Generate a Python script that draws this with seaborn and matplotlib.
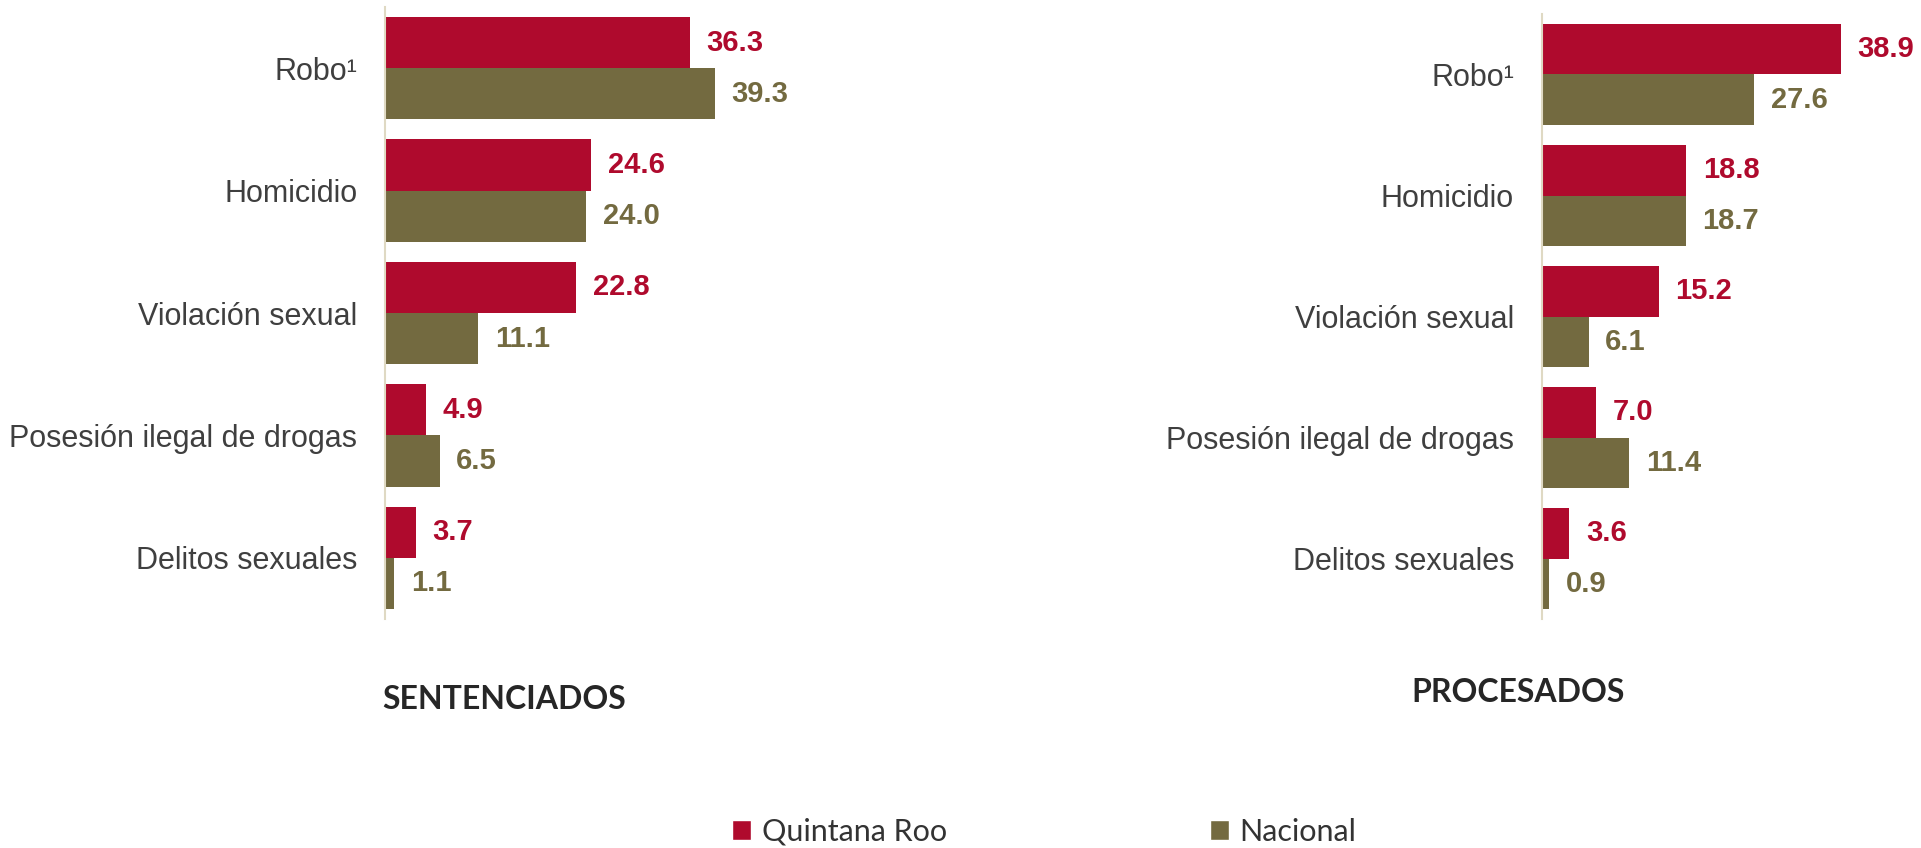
import matplotlib
matplotlib.use("Agg")
import matplotlib.pyplot as plt
from matplotlib.patches import Patch
import pandas as pd
import seaborn as sns

# Categorías de delito y series
delitos = ["Robo¹", "Homicidio", "Violación sexual",
           "Posesión ilegal de drogas", "Delitos sexuales"]
grupos = ["Quintana Roo", "Nacional"]

sentenciados_qroo = [36.3, 24.6, 22.8, 4.9, 3.7]
sentenciados_nac = [39.3, 24.0, 11.1, 6.5, 1.1]

procesados_qroo = [38.9, 18.8, 15.2, 7.0, 3.6]
procesados_nac = [27.6, 18.7, 6.1, 11.4, 0.9]

ROJO = "#AF0A2D"
OLIVO = "#736A40"
EJE = "#DFD9C3"
TEXTO = "#3F3F3F"

sns.set_theme(style="white")
plt.rcParams["font.family"] = ["Liberation Sans", "DejaVu Sans"]


def tabla(qroo, nac):
    return pd.DataFrame({
        "delito": delitos * 2,
        "grupo": [grupos[0]] * len(delitos) + [grupos[1]] * len(delitos),
        "valor": list(qroo) + list(nac),
    })


def panel(ax, qroo, nac, xmax):
    df = tabla(qroo, nac)
    sns.barplot(data=df, x="valor", y="delito", hue="grupo",
                hue_order=grupos, order=delitos,
                palette=[ROJO, OLIVO], orient="h", width=0.836, gap=0,
                saturation=1, linewidth=0, legend=False, ax=ax)
    for cont, col in zip(ax.containers, [ROJO, OLIVO]):
        ax.bar_label(cont, fmt="%.1f", padding=12, color=col,
                     fontsize=21, fontweight="bold")
    ax.set_xlim(0, xmax)
    ax.set_ylim(len(delitos) - 0.5, -0.5)
    ax.set_xlabel("")
    ax.set_ylabel("")
    ax.set_xticks([])
    for s in ["top", "right", "bottom"]:
        ax.spines[s].set_visible(False)
    ax.spines["left"].set_color(EJE)
    ax.spines["left"].set_linewidth(1.5)
    ax.set_yticks(range(len(delitos)))
    ax.set_yticklabels(delitos, fontsize=22, color=TEXTO)
    ax.tick_params(axis="y", which="major", length=0, pad=20)
    ax.set_yticks([i - 0.5 for i in range(len(delitos) + 1)], minor=True)
    ax.tick_params(axis="y", which="minor", length=7, width=1.5,
                   color=EJE, direction="out")


fig = plt.figure(figsize=(19.21, 8.48), dpi=100)
ax1 = fig.add_axes([0.2004, 0.270, 0.1966, 0.7217])
ax2 = fig.add_axes([0.8026, 0.270, 0.1841, 0.7135])

panel(ax1, sentenciados_qroo, sentenciados_nac, 45)
panel(ax2, procesados_qroo, procesados_nac, 46)

fig.text(0.1989, 0.1748, "SENTENCIADOS", family="Lato", fontweight="bold",
         fontsize=23, color="#262626", va="center", ha="left")
fig.text(0.7345, 0.1828, "PROCESADOS", family="Lato", fontweight="bold",
         fontsize=23, color="#262626", va="center", ha="left")

handles = [Patch(facecolor=ROJO), Patch(facecolor=OLIVO)]
fig.legend(handles, grupos, loc="center left", bbox_to_anchor=(0.3813, 0.019),
           ncol=2, frameon=False, handlelength=0.62, handleheight=0.62,
           handletextpad=0.35, columnspacing=8.6, borderaxespad=0,
           borderpad=0, prop={"family": "Lato", "size": 22},
           labelcolor="#333333")

fig.savefig("out.png", dpi=100)
